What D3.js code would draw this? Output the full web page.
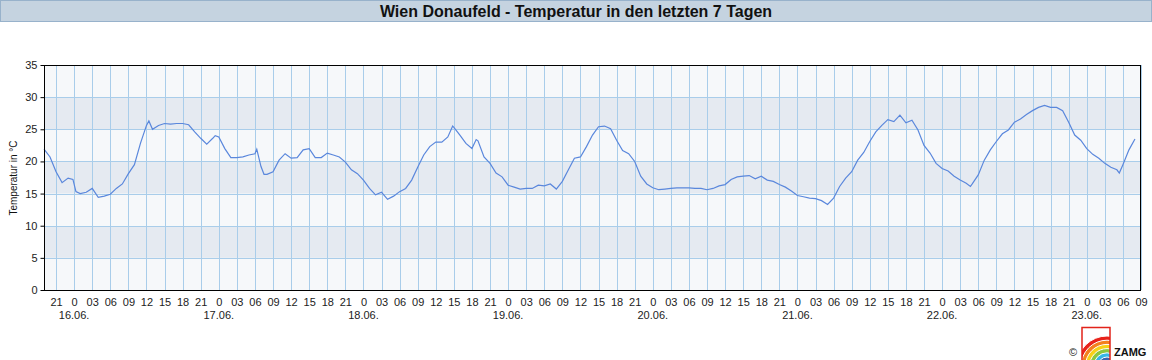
<!DOCTYPE html>
<html><head><meta charset="utf-8">
<script src="https://cdn.jsdelivr.net/npm/d3@7"></script>
<style>
html,body{margin:0;padding:0;background:#fff;}
svg{display:block;font-family:Arial,"Liberation Sans",sans-serif;}
</style></head>
<body><svg id="c" width="1152" height="360"></svg>
<script>
// hours relative to 16.06. 00:00
const hours = [-5,-4,-3,-2,-1,-0.2,0.3,1,2,3,4,5,6,7,8,9,10,11,12,12.4,13,14,15,16,17,18,19,20,21,22,23,23.4,24,25,26,27,28,29,30,30.3,31,31.5,32,33,34,35,36,37,38,39,40,41,42,43,44,45,46,47,48,49,50,51,52,53,54,55,56,57,58,59,60,61,62,62.8,63,64,65,66,66.7,67,68,69,70,71,72,73,74,75,76,77,78,79,80,81,82,83,84,85,86,87,88,89,90,91,92,93,94,95,96,97,98,99,100,101,102,103,104,105,106,107,108,109,110,111,112,113,114,115,116,117,118,119,120,121,122,123,124,125,126,127,128,129,130,131,132,133,134,135,136,137,138,139,140,141,142,143,144,145,146,147,148,148.7,149,150,151,152,153,154,155,156,157,158,159,160,161,162,163,164,165,166,167,168,169,170,171,172,173,173.4,174,175,176];
const temps = [21.9,20.7,18.4,16.7,17.4,17.2,15.3,15.0,15.2,15.8,14.4,14.6,14.9,15.8,16.5,18.1,19.5,22.8,25.6,26.3,25.0,25.6,25.9,25.8,25.9,25.9,25.7,24.6,23.6,22.7,23.6,24.0,23.8,22.0,20.6,20.6,20.7,21.0,21.2,21.9,19.2,18.0,18.0,18.4,20.2,21.2,20.5,20.6,21.8,22.0,20.6,20.6,21.3,21.0,20.7,19.9,18.7,18.1,17.1,15.8,14.8,15.2,14.1,14.6,15.3,15.8,17.1,19.1,21.0,22.3,23.0,23.0,23.8,25.5,25.3,24.1,22.8,22.0,23.4,23.2,20.7,19.7,18.2,17.6,16.3,16.0,15.7,15.8,15.8,16.3,16.2,16.5,15.7,16.9,18.7,20.5,20.7,22.3,24.1,25.4,25.5,25.1,23.3,21.7,21.2,20.0,17.7,16.5,15.9,15.6,15.7,15.8,15.9,15.9,15.9,15.8,15.8,15.6,15.8,16.2,16.4,17.2,17.6,17.7,17.8,17.3,17.7,17.1,16.9,16.4,16.0,15.4,14.7,14.5,14.3,14.2,13.9,13.3,14.3,16.1,17.4,18.4,20.2,21.4,23.1,24.6,25.6,26.5,26.2,27.2,26.0,26.4,24.9,22.5,21.3,19.7,18.9,18.5,17.7,17.1,16.6,16.1,16.5,17.9,20.2,21.8,23.1,24.3,24.9,26.1,26.6,27.3,27.9,28.4,28.7,28.4,28.4,27.9,26.1,24.1,23.3,22.0,21.1,20.5,19.7,19.1,18.7,18.2,19.5,21.8,23.5];
const xDomain = [-5, 177];
const tickHours = d3.range(-3, 178, 3);
const dateLabels = ["16.06.","17.06.","18.06.","19.06.","20.06.","21.06.","22.06.","23.06."];
const yTicks = [0,5,10,15,20,25,30,35];
const titleText = "Wien Donaufeld - Temperatur in den letzten 7 Tagen";
const yTitle = "Temperatur in °C";

const svg = d3.select("#c");
const L=44, R=1141, T=65, B=290;
const x = d3.scaleLinear().domain(xDomain).range([L,R]);
const y = d3.scaleLinear().domain([0,35]).range([B,T]);

// title bar
svg.append("rect").attr("x",0.5).attr("y",0.5).attr("width",1151).attr("height",21)
  .attr("fill","#c5d3e0").attr("stroke","#98b2cb");
svg.append("text").attr("x",576).attr("y",17).attr("text-anchor","middle")
  .attr("font-size",16).attr("font-weight","bold").attr("fill","#111").text(titleText);

// bands
const bands = d3.range(0,35,5);
svg.append("g").selectAll("rect").data(bands).join("rect")
  .attr("x",L).attr("width",R-L)
  .attr("y",d=>y(d+5)).attr("height",d=>y(d)-y(d+5))
  .attr("fill",d=>(d/5)%2===1?"#e5eaf1":"#f6f8fa");

// grid
const g = svg.append("g").attr("stroke","#a9cdea").attr("stroke-width",1);
g.selectAll("line.v").data(tickHours).join("line").attr("class","v")
  .attr("x1",d=>Math.round(x(d))+0.5).attr("x2",d=>Math.round(x(d))+0.5)
  .attr("y1",T).attr("y2",B);
g.selectAll("line.h").data(yTicks.slice(1,-1)).join("line").attr("class","h")
  .attr("x1",L).attr("x2",R)
  .attr("y1",d=>Math.round(y(d))+0.5).attr("y2",d=>Math.round(y(d))+0.5);

// line
const data = hours.map((h,i)=>({h,t:temps[i]}));
svg.append("path").datum(data)
  .attr("fill","none").attr("stroke","#5a87dc").attr("stroke-width",1.2)
  .attr("d",d3.line().x(d=>x(d.h)).y(d=>y(d.t)));

// frame
svg.append("rect").attr("x",L+0.5).attr("y",T+0.5).attr("width",R-L-1).attr("height",B-T)
  .attr("fill","none").attr("stroke","#000");

// y axis
const ya = svg.append("g").attr("transform",`translate(${L+0.5},0)`)
  .call(d3.axisLeft(y).tickValues(yTicks).tickSize(4).tickPadding(3));
ya.select(".domain").remove();
ya.selectAll("text").attr("font-size",11).attr("fill","#222").attr("font-family",null);
ya.selectAll("line").attr("stroke","#000");

// x axis labels
const xa = svg.append("g").attr("transform",`translate(0,${B})`)
  .call(d3.axisBottom(x).tickValues(tickHours).tickSize(0).tickPadding(8)
    .tickFormat(h=>{const m=((h%24)+24)%24; return m===0?"0":String(m).padStart(2,"0");}));
xa.select(".domain").remove();
xa.selectAll("text").attr("font-size",11).attr("fill","#222").attr("font-family",null);

svg.append("g").selectAll("text").data(dateLabels).join("text")
  .attr("x",(d,i)=>x(i*24)).attr("y",319).attr("text-anchor","middle")
  .attr("font-size",11).attr("fill","#222").text(d=>d);

// y title
svg.append("text").attr("transform","translate(17,178) rotate(-90)")
  .attr("text-anchor","middle").attr("font-size",10).attr("fill","#111").text(yTitle);

// logo
const logo = svg.append("g");
logo.append("clipPath").attr("id","lc").append("rect").attr("x",1082).attr("y",327).attr("width",28).attr("height",33);
const cols = ["#e8231b","#f4801f","#f7d117","#8cc63f","#35b6e6","#3a63b0","#7a3f98"];
const lg = logo.append("g").attr("clip-path","url(#lc)");
cols.forEach((c,i)=>{
  lg.append("circle").attr("cx",1107).attr("cy",366).attr("r",30-i*4.2)
    .attr("fill",c).attr("stroke","#fff").attr("stroke-width",1);
});
lg.append("circle").attr("cx",1107).attr("cy",366).attr("r",30-7*4.2).attr("fill","#fff");
logo.append("rect").attr("x",1082).attr("y",327.5).attr("width",28).attr("height",40)
  .attr("fill","none").attr("stroke","#e2231a").attr("stroke-width",1.5);
logo.append("text").attr("x",1069).attr("y",356).attr("font-size",11).attr("fill","#222").text("©");
logo.append("text").attr("x",1114).attr("y",356).attr("font-size",11).attr("font-weight","bold").attr("fill","#111").text("ZAMG");
</script></body></html>
